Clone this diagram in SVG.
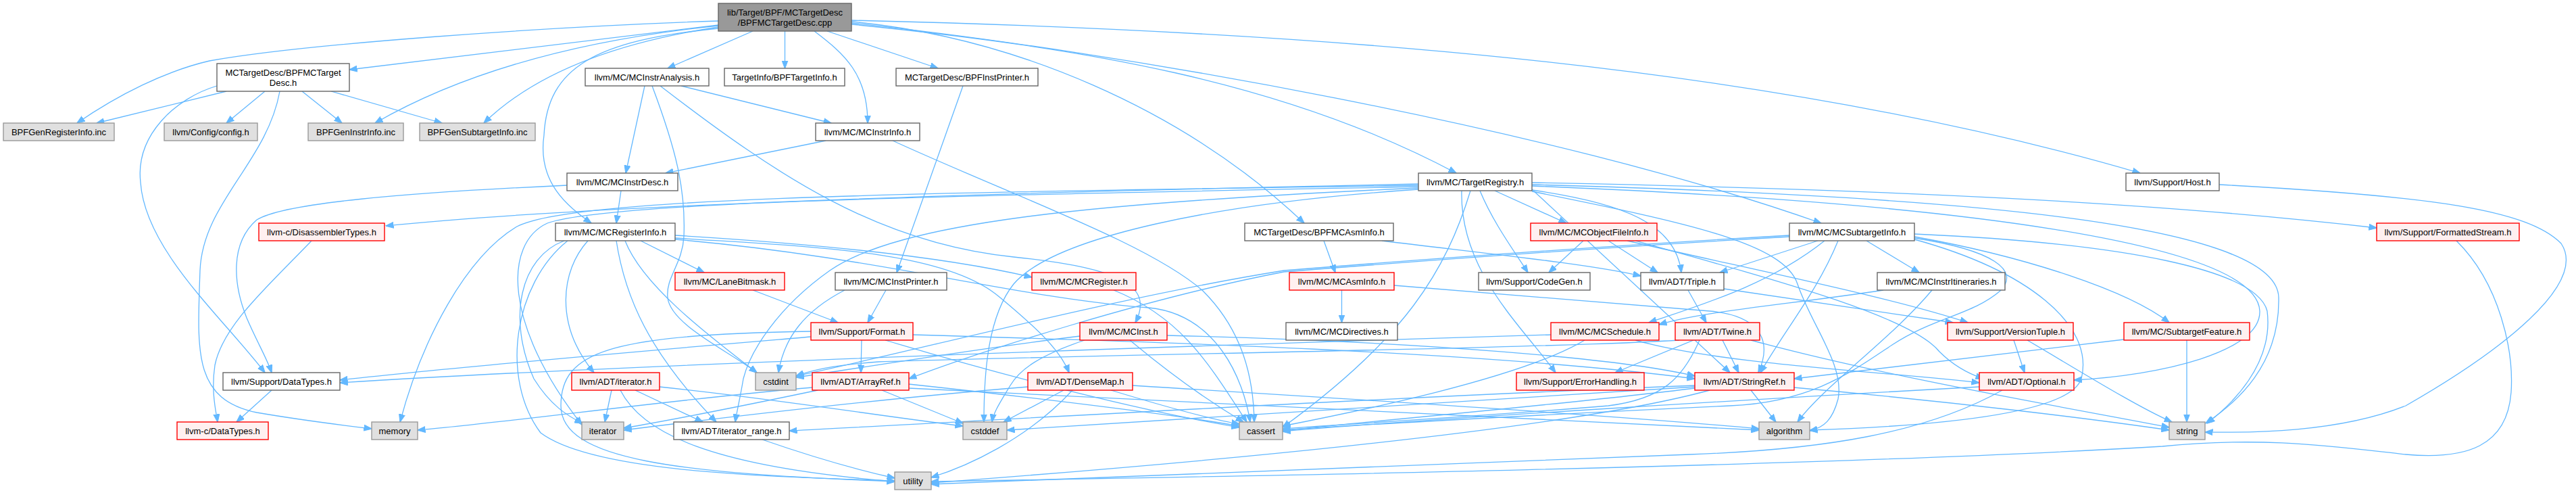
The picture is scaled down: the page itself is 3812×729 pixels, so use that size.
<svg xmlns="http://www.w3.org/2000/svg" width="3812" height="729" viewBox="0 0 3812 729">
<defs>
<marker id="a" viewBox="0 0 12 10" refX="11.5" refY="5" markerWidth="12" markerHeight="10" markerUnits="userSpaceOnUse" orient="auto">
<path d="M0,0.5 L12,5 L0,9.5 z" fill="#63b8ff" stroke="#63b8ff" stroke-width="1"/>
</marker>
<style>
#edges path{fill:none;stroke:#63b8ff;stroke-width:1.3;marker-end:url(#a)}
.node rect{stroke-width:1.4}
.w rect{fill:#ffffff;stroke:#666666}
.g rect{fill:#e0e0e0;stroke:#999999}
.r rect{fill:#fff0f0;stroke:#ff0000}
.root rect{fill:#999999;stroke:#666666}
text{font-family:"Liberation Sans",Arial,Helvetica,sans-serif;font-size:13px;text-anchor:middle;fill:#000000}
</style>
</defs>
<rect width="3812" height="729" fill="#ffffff"/>
<g id="edges">
<!-- root -->
<path d="M1063,37 L517,103"/>
<path d="M1114,46 L988,101"/>
<path d="M1161.5,46 L1161.5,101"/>
<path d="M1224,46 L1388,101"/>
<path d="M1063,31 C800,40 450,65 310,90 C245,105 175,140 114,182"/>
<path d="M1063,38 C850,60 680,110 555,182"/>
<path d="M1063,40 C930,60 800,100 716,182"/>
<path d="M1205,46 C1250,80 1284,110 1284,182"/>
<path d="M1260,36 C1600,70 1900,120 2155,256"/>
<path d="M1260,30 C1900,45 2600,90 3167,256"/>
<path d="M1063,42 C880,60 810,100 805,200 C795,270 840,305 875,330"/>
<path d="M1260,32 C1500,55 1750,160 1930,330"/>
<path d="M1260,34 C1650,75 2300,190 2695,330"/>
<!-- BPFMCTargetDesc.h -->
<path d="M335,135 L143,182"/>
<path d="M392,135 L335,182"/>
<path d="M447,135 L506,182"/>
<path d="M490,135 L654,182"/>
<path d="M321,127 C260,145 200,200 208,270 C215,370 330,470 392,551"/>
<path d="M414,135 C395,240 300,300 296,400 C292,520 285,590 380,610 C450,622 500,628 550,634"/>
<!-- MCInstrAnalysis.h -->
<path d="M954,127 L926,256"/>
<path d="M1008,127 L1230,182"/>
<path d="M965,127 C1000,220 1015,280 1012,350 C1010,390 985,410 988,440 C992,480 1080,520 1120,551"/>
<path d="M977,127 C1150,260 1300,360 1500,380 C1650,395 1710,420 1680,477"/>
<!-- BPFInstPrinter.h -->
<path d="M1425,127 L1327,403"/>
<!-- MCInstrInfo.h -->
<path d="M1222,208 L985,256"/>
<path d="M1321,208 C1500,290 1700,360 1780,430 C1840,490 1855,560 1856,624"/>
<!-- MCInstrDesc.h -->
<path d="M919,282 L912,330"/>
<path d="M839,274 C600,285 420,300 380,325 C340,360 345,420 365,470 C380,505 395,530 402,551"/>
<!-- TargetRegistry.h -->
<path d="M2099,272 C1600,282 900,300 571,334"/>
<path d="M2267,275 C2900,300 3340,360 3344,460 C3346,520 3200,555 3069,562"/>
<path d="M2267,280 L2560,551"/>
<path d="M2267,281 C2400,300 2480,330 2488,403"/>
<path d="M2099,278 C1600,300 1330,330 1228,400 C1150,455 1110,520 1100,560 C1095,590 1090,610 1088,624"/>
<path d="M2212,282 L2318,330"/>
<path d="M2190,282 C2210,330 2240,370 2261,403"/>
<path d="M2163,282 C2160,400 2250,480 2302,551"/>
<path d="M2267,270 C2800,280 3200,300 3517,337"/>
<path d="M2267,283 C2500,330 2640,360 2660,420 C2680,480 2730,540 2720,590 C2712,620 2700,632 2678,637"/>
<path d="M2176,282 C2140,400 2080,500 1898,632"/>
<path d="M2099,280 C1800,300 1560,350 1500,420 C1460,470 1456,560 1456,624"/>
<path d="M2099,276 C1400,290 900,298 810,330 C745,360 745,480 861,628"/>
<path d="M2099,274 C1400,285 850,290 765,335 C690,380 625,500 592,624"/>
<path d="M2267,273 C2900,290 3370,330 3372,440 C3374,540 3310,595 3264,626"/>
<!-- Host.h -->
<path d="M3284,273 C3600,290 3740,310 3790,360 C3830,420 3700,520 3560,600 C3460,640 3330,640 3263,639"/>
<!-- DisassemblerTypes.h -->
<path d="M461,356 C400,420 330,480 318,540 C312,580 320,610 322,624"/>
<!-- MCRegisterInfo.h -->
<path d="M948,356 L1042,403"/>
<path d="M999,348 C1200,360 1400,380 1527,410"/>
<path d="M999,352 C1200,365 1400,370 1480,440 C1540,490 1570,520 1582,551"/>
<path d="M870,356 C830,400 820,480 879,551"/>
<path d="M912,356 C925,440 960,520 1060,624"/>
<path d="M925,356 C950,420 1040,490 1120,551"/>
<path d="M999,354 C1300,380 1500,440 1700,455 C1800,465 1840,560 1850,624"/>
<path d="M835,356 C770,380 750,470 790,560 C815,600 840,615 862,626"/>
<path d="M840,356 C760,420 740,560 800,640 C880,700 1150,705 1324,711"/>
<!-- BPFMCAsmInfo.h -->
<path d="M1959,356 L1976,403"/>
<path d="M2045,356 C2200,375 2350,390 2428,408"/>
<!-- MCObjectFileInfo.h -->
<path d="M2343,356 L2292,403"/>
<path d="M2380,356 L2453,403"/>
<path d="M2408,356 C2600,400 2800,440 2912,477"/>
<path d="M2420,356 C2650,420 2830,470 2870,520 C2895,545 2920,555 2935,560"/>
<!-- MCSubtargetInfo.h -->
<path d="M2648,350 C2300,370 2050,390 1900,402 C1700,440 1450,520 1345,560"/>
<path d="M2648,348 C2300,368 2050,388 1900,400 C1650,440 1350,520 1178,556"/>
<path d="M2720,356 C2690,430 2640,490 2605,551"/>
<path d="M2690,356 L2545,403"/>
<path d="M2762,356 L2840,403"/>
<path d="M2700,356 C2620,420 2520,450 2440,477"/>
<path d="M2833,350 C3000,380 3150,430 3210,477"/>
<path d="M2833,354 C3000,400 3100,480 3080,560 C3060,620 2800,632 2678,636"/>
<path d="M2833,352 C2950,370 2990,400 2960,430 C2920,465 2860,470 2800,510 C2740,550 2680,595 2560,600 C2300,612 1980,630 1898,636"/>
<path d="M2833,346 C3150,360 3340,400 3355,460 C3365,540 3300,600 3266,626"/>
<!-- FormattedStream.h -->
<path d="M3635,356 C3700,420 3720,520 3716,580 C3710,660 3650,680 3560,672 C3450,660 3350,645 3200,660 C2700,690 1800,705 1378,712"/>
<!-- LaneBitmask.h -->
<path d="M1114,429 L1240,477"/>
<!-- MCInstPrinter.h -->
<path d="M1311,429 L1284,477"/>
<path d="M1250,429 C1190,460 1160,500 1152,551"/>
<!-- MCRegister.h -->
<path d="M1648,429 C1750,470 1790,540 1845,624"/>
<!-- MCAsmInfo.h -->
<path d="M1985.5,429 L1985.5,477"/>
<path d="M2063,422 L2530,460 C2600,466 2625,500 2602,551"/>
<!-- Triple.h -->
<path d="M2498,429 L2525,477"/>
<path d="M2551,427 L2890,477"/>
<!-- MCInstrItineraries.h -->
<path d="M2787,429 C2650,450 2520,460 2455,480"/>
<path d="M2859,429 C2800,500 2700,570 2660,624"/>
<!-- Format.h -->
<path d="M1275,503 L1274,551"/>
<path d="M1351,495 C1700,505 2200,520 2508,560"/>
<path d="M1200,498 C1000,515 700,540 503,562"/>
<path d="M1310,503 C1500,560 1700,610 1834,632"/>
<path d="M1200,490 C900,495 830,520 830,600 C830,680 1000,700 1324,712"/>
<!-- MCInst.h -->
<path d="M1605,503 C1540,525 1510,545 1495,570 C1480,595 1470,610 1468,624"/>
<path d="M1672,503 C1740,560 1800,600 1840,624"/>
<path d="M1727,496 C2100,505 2400,530 2508,556"/>
<path d="M1598,497 C1450,515 1300,540 1178,558"/>
<!-- MCSchedule.h -->
<path d="M2295,495 C1800,510 900,540 503,566"/>
<path d="M2345,503 C2250,560 2000,610 1898,630"/>
<path d="M2420,503 C2550,540 2800,550 2929,566"/>
<!-- Twine.h -->
<path d="M2506,503 L2390,551"/>
<path d="M2549,503 L2573,551"/>
<path d="M2485,503 C2300,515 1600,525 1300,535 C1230,540 1200,548 1178,556"/>
<path d="M2515,503 C2490,560 2460,590 2380,600 C2200,615 1980,628 1898,634"/>
<path d="M2591,503 C2800,560 3100,610 3210,632"/>
<!-- VersionTuple.h -->
<path d="M2980,503 L2996,551"/>
<path d="M3000,503 C3080,550 3160,600 3214,624"/>
<!-- SubtargetFeature.h -->
<path d="M3236,503 L3236,624"/>
<path d="M3143,502 L2655,560"/>
<!-- Support/DataTypes.h -->
<path d="M402,577 L350,624"/>
<!-- iterator.h -->
<path d="M905,577 L895,624"/>
<path d="M940,577 L1040,624"/>
<path d="M918,577 C950,640 1050,690 1324,712"/>
<path d="M976,572 C1150,590 1300,615 1425,630"/>
<!-- ArrayRef.h -->
<path d="M1305,577 L1425,626"/>
<path d="M1210,577 C1100,600 1000,620 923,633"/>
<path d="M1202,573 C1000,590 750,625 618,636"/>
<path d="M1345,568 C1550,590 1750,615 1834,630"/>
<path d="M1345,574 C1900,600 2400,625 2603,636"/>
<!-- DenseMap.h -->
<path d="M1574,577 L1485,624"/>
<path d="M1587,577 C1520,650 1430,690 1378,706"/>
<path d="M1644,577 C1720,600 1790,620 1834,627"/>
<path d="M1676,570 C2000,590 2400,615 2603,634"/>
<path d="M1521,572 C1300,590 1050,620 923,636"/>
<!-- StringRef.h -->
<path d="M2508,570 C2000,590 1500,620 1168,637"/>
<path d="M2591,577 L2628,624"/>
<path d="M2508,574 C2300,600 2000,625 1898,637"/>
<path d="M2508,572 C2100,600 1700,625 1490,636"/>
<path d="M2655,573 C2900,595 3100,620 3210,636"/>
<path d="M2530,577 C2300,640 1700,690 1378,714"/>
<!-- Optional.h -->
<path d="M2929,572 C2600,590 2100,620 1898,638"/>
<path d="M2963,577 C2850,640 2700,665 2500,672 C2100,690 1700,705 1378,716"/>
<!-- iterator_range.h -->
<path d="M1128,650 C1200,675 1270,695 1324,707"/>
</g>
<g id="node-root" class="node root"><rect x="1063" y="5" width="197" height="41"/><text x="1161.5" y="22.5">lib/Target/BPF/MCTargetDesc</text><text x="1161.5" y="37.5">/BPFMCTargetDesc.cpp</text></g>
<g id="node-bpfmctargetdesc-h" class="node w"><rect x="321" y="94" width="196" height="41"/><text x="419" y="111.5">MCTargetDesc/BPFMCTarget</text><text x="419" y="126.5">Desc.h</text></g>
<g id="node-mcinstranalysis" class="node w"><rect x="866" y="101" width="183" height="26"/><text x="957.5" y="118.5">llvm/MC/MCInstrAnalysis.h</text></g>
<g id="node-bpftargetinfo" class="node w"><rect x="1072" y="101" width="178" height="26"/><text x="1161" y="118.5">TargetInfo/BPFTargetInfo.h</text></g>
<g id="node-bpfinstprinter" class="node w"><rect x="1326" y="101" width="210" height="26"/><text x="1431" y="118.5">MCTargetDesc/BPFInstPrinter.h</text></g>
<g id="node-bpfgenregisterinfo" class="node g"><rect x="5" y="182" width="164" height="26"/><text x="87" y="199.5">BPFGenRegisterInfo.inc</text></g>
<g id="node-config" class="node g"><rect x="243" y="182" width="138" height="26"/><text x="312" y="199.5">llvm/Config/config.h</text></g>
<g id="node-bpfgeninstrinfo" class="node g"><rect x="456" y="182" width="141" height="26"/><text x="526.5" y="199.5">BPFGenInstrInfo.inc</text></g>
<g id="node-bpfgensubtargetinfo" class="node g"><rect x="621" y="182" width="171" height="26"/><text x="706.5" y="199.5">BPFGenSubtargetInfo.inc</text></g>
<g id="node-mcinstrinfo" class="node w"><rect x="1207" y="182" width="154" height="26"/><text x="1284" y="199.5">llvm/MC/MCInstrInfo.h</text></g>
<g id="node-mcinstrdesc" class="node w"><rect x="839" y="256" width="164" height="26"/><text x="921" y="273.5">llvm/MC/MCInstrDesc.h</text></g>
<g id="node-targetregistry" class="node w"><rect x="2099" y="256" width="168" height="26"/><text x="2183" y="273.5">llvm/MC/TargetRegistry.h</text></g>
<g id="node-host" class="node w"><rect x="3146" y="256" width="138" height="26"/><text x="3215" y="273.5">llvm/Support/Host.h</text></g>
<g id="node-disassemblertypes" class="node r"><rect x="383" y="330" width="186" height="26"/><text x="476" y="347.5">llvm-c/DisassemblerTypes.h</text></g>
<g id="node-mcregisterinfo" class="node w"><rect x="822" y="330" width="177" height="26"/><text x="910.5" y="347.5">llvm/MC/MCRegisterInfo.h</text></g>
<g id="node-bpfmcasminfo" class="node w"><rect x="1842" y="330" width="220" height="26"/><text x="1952" y="347.5">MCTargetDesc/BPFMCAsmInfo.h</text></g>
<g id="node-mcobjectfileinfo" class="node r"><rect x="2265" y="330" width="187" height="26"/><text x="2358.5" y="347.5">llvm/MC/MCObjectFileInfo.h</text></g>
<g id="node-mcsubtargetinfo" class="node w"><rect x="2648" y="330" width="185" height="26"/><text x="2740.5" y="347.5">llvm/MC/MCSubtargetInfo.h</text></g>
<g id="node-formattedstream" class="node r"><rect x="3517" y="330" width="211" height="26"/><text x="3622.5" y="347.5">llvm/Support/FormattedStream.h</text></g>
<g id="node-lanebitmask" class="node r"><rect x="999" y="403" width="162" height="26"/><text x="1080" y="420.5">llvm/MC/LaneBitmask.h</text></g>
<g id="node-mcinstprinter" class="node w"><rect x="1236" y="403" width="165" height="26"/><text x="1318.5" y="420.5">llvm/MC/MCInstPrinter.h</text></g>
<g id="node-mcregister" class="node r"><rect x="1527" y="403" width="154" height="26"/><text x="1604" y="420.5">llvm/MC/MCRegister.h</text></g>
<g id="node-mcasminfo" class="node r"><rect x="1908" y="403" width="155" height="26"/><text x="1985.5" y="420.5">llvm/MC/MCAsmInfo.h</text></g>
<g id="node-codegen" class="node w"><rect x="2188" y="403" width="165" height="26"/><text x="2270.5" y="420.5">llvm/Support/CodeGen.h</text></g>
<g id="node-triple" class="node w"><rect x="2428" y="403" width="123" height="26"/><text x="2489.5" y="420.5">llvm/ADT/Triple.h</text></g>
<g id="node-mcinstritineraries" class="node w"><rect x="2778" y="403" width="189" height="26"/><text x="2872.5" y="420.5">llvm/MC/MCInstrItineraries.h</text></g>
<g id="node-format" class="node r"><rect x="1200" y="477" width="151" height="26"/><text x="1275.5" y="494.5">llvm/Support/Format.h</text></g>
<g id="node-mcinst" class="node r"><rect x="1598" y="477" width="129" height="26"/><text x="1662.5" y="494.5">llvm/MC/MCInst.h</text></g>
<g id="node-mcdirectives" class="node w"><rect x="1903" y="477" width="165" height="26"/><text x="1985.5" y="494.5">llvm/MC/MCDirectives.h</text></g>
<g id="node-mcschedule" class="node r"><rect x="2295" y="477" width="160" height="26"/><text x="2375" y="494.5">llvm/MC/MCSchedule.h</text></g>
<g id="node-twine" class="node r"><rect x="2479" y="477" width="125" height="26"/><text x="2541.5" y="494.5">llvm/ADT/Twine.h</text></g>
<g id="node-versiontuple" class="node r"><rect x="2882" y="477" width="186" height="26"/><text x="2975" y="494.5">llvm/Support/VersionTuple.h</text></g>
<g id="node-subtargetfeature" class="node r"><rect x="3143" y="477" width="186" height="26"/><text x="3236" y="494.5">llvm/MC/SubtargetFeature.h</text></g>
<g id="node-support-datatypes" class="node w"><rect x="330" y="551" width="173" height="26"/><text x="416.5" y="568.5">llvm/Support/DataTypes.h</text></g>
<g id="node-adt-iterator" class="node r"><rect x="846" y="551" width="130" height="26"/><text x="911" y="568.5">llvm/ADT/iterator.h</text></g>
<g id="node-cstdint" class="node g"><rect x="1118" y="551" width="60" height="26"/><text x="1148" y="568.5">cstdint</text></g>
<g id="node-arrayref" class="node r"><rect x="1202" y="551" width="143" height="26"/><text x="1273.5" y="568.5">llvm/ADT/ArrayRef.h</text></g>
<g id="node-densemap" class="node r"><rect x="1521" y="551" width="155" height="26"/><text x="1598.5" y="568.5">llvm/ADT/DenseMap.h</text></g>
<g id="node-errorhandling" class="node r"><rect x="2244" y="551" width="189" height="26"/><text x="2338.5" y="568.5">llvm/Support/ErrorHandling.h</text></g>
<g id="node-stringref" class="node r"><rect x="2508" y="551" width="147" height="26"/><text x="2581.5" y="568.5">llvm/ADT/StringRef.h</text></g>
<g id="node-optional" class="node r"><rect x="2929" y="551" width="140" height="26"/><text x="2999" y="568.5">llvm/ADT/Optional.h</text></g>
<g id="node-c-datatypes" class="node r"><rect x="262" y="624" width="135" height="26"/><text x="329.5" y="641.5">llvm-c/DataTypes.h</text></g>
<g id="node-memory" class="node g"><rect x="550" y="624" width="68" height="26"/><text x="584" y="641.5">memory</text></g>
<g id="node-iterator" class="node g"><rect x="861" y="624" width="62" height="26"/><text x="892" y="641.5">iterator</text></g>
<g id="node-iterator-range" class="node w"><rect x="997" y="624" width="171" height="26"/><text x="1082.5" y="641.5">llvm/ADT/iterator_range.h</text></g>
<g id="node-cstddef" class="node g"><rect x="1425" y="624" width="65" height="26"/><text x="1457.5" y="641.5">cstddef</text></g>
<g id="node-cassert" class="node g"><rect x="1834" y="624" width="64" height="26"/><text x="1866" y="641.5">cassert</text></g>
<g id="node-algorithm" class="node g"><rect x="2603" y="624" width="75" height="26"/><text x="2640.5" y="641.5">algorithm</text></g>
<g id="node-string" class="node g"><rect x="3210" y="624" width="53" height="26"/><text x="3236.5" y="641.5">string</text></g>
<g id="node-utility" class="node g"><rect x="1324" y="698" width="54" height="26"/><text x="1351" y="715.5">utility</text></g>
</svg>
